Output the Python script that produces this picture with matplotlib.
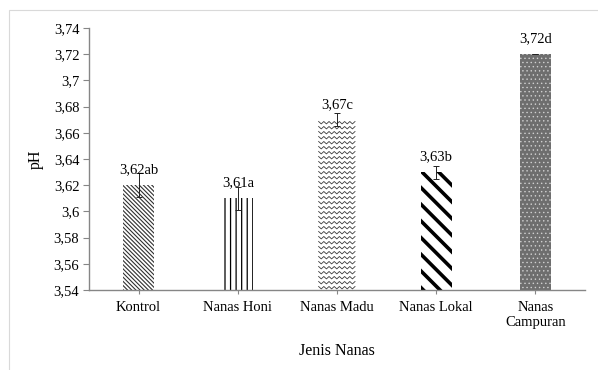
import numpy as np
import matplotlib.pyplot as plt
from matplotlib.patches import Rectangle
from matplotlib.lines import Line2D
from matplotlib.transforms import IdentityTransform

plt.rcParams['font.family'] = ['Liberation Serif', 'DejaVu Serif']
plt.rcParams['font.size'] = 10.5

categories = ["Kontrol", "Nanas Honi", "Nanas Madu", "Nanas Lokal", "Nanas\nCampuran"]
ph_values = [3.62, 3.61, 3.67, 3.63, 3.72]
ph_errors = [0.009, 0.009, 0.005, 0.005, 0.0]
bar_labels = ["3,62ab", "3,61a", "3,67c", "3,63b", "3,72d"]
yticks = [3.54, 3.56, 3.58, 3.60, 3.62, 3.64, 3.66, 3.68, 3.70, 3.72, 3.74]
ytick_labels = ["3,54", "3,56", "3,58", "3,6", "3,62", "3,64", "3,66", "3,68", "3,7", "3,72", "3,74"]

# per-bar look: facecolor, hatch colour, hatch, hatch linewidth
styles = [
    ("white", "#303030", "\\" * 8, 0.8),
    ("white", "black", "|" * 3, 0.9),
    ("white", "white", "", 0.7),   # zigzag drawn by hand below
    ("white", "black", "\\" * 2, 2.6),
    ("#6e6e6e", "#d0d0d0", "." * 4, 0.5),
]

fig = plt.figure(figsize=(5.98, 3.70), dpi=100)
W, H = 598, 370
fig.patches.append(Rectangle((9 / W, -0.1), 1.2, 1 - 10 / H + 0.1, transform=fig.transFigure,
                             facecolor="none", edgecolor="#d9d9d9", linewidth=0.8))

ax = fig.add_axes([89 / W, 1 - 290 / H, (585 - 89) / W, (290 - 28) / H])
x = np.arange(len(categories))

bars = []
for i in range(len(categories)):
    fc, hc, hatch, hlw = styles[i]
    with plt.rc_context({'hatch.linewidth': hlw}):
        b = ax.bar(x[i], ph_values[i] - 3.54, bottom=3.54, width=0.31, color=fc,
                   edgecolor=hc, linewidth=0, hatch=hatch, zorder=2)[0]
    if hasattr(b, "set_hatch_linewidth"):
        b.set_hatch_linewidth(hlw)
    bars.append(b)

ax.set_xlim(-0.5, len(categories) - 0.5)
ax.set_ylim(3.54, 3.74)

# zigzag fill for Nanas Madu
fig.canvas.draw()
zb = bars[2]
(x0, y0), (x1, y1) = ax.transData.transform([(zb.get_x(), zb.get_y()),
                                             (zb.get_x() + zb.get_width(), zb.get_y() + zb.get_height())])
xs = np.arange(x0 - 3, x1 + 3, 2.6)
for yy in np.arange(y1 - 3, y0 - 3, -5.0):
    ys = yy + np.where(np.arange(len(xs)) % 2 == 0, 1.2, -1.2)
    ln = Line2D(xs, ys, transform=IdentityTransform(), color="#3a3a3a", linewidth=0.6, zorder=3)
    ln.set_clip_path(zb)
    ax.add_line(ln)

ax.errorbar(x, ph_values, yerr=ph_errors, fmt="none", ecolor="#222222", elinewidth=0.7,
            capsize=2.5, capthick=0.7, zorder=4)

for i in range(len(categories)):
    ax.annotate(bar_labels[i], (x[i], ph_values[i]), xytext=(0, 11), textcoords="offset points",
                ha="center", va="center", fontsize=10.5, zorder=5)

ax.set_yticks(yticks)
ax.set_yticklabels(ytick_labels)
ax.set_xticks(x)
ax.set_xticklabels(categories)
for s in ["top", "right"]:
    ax.spines[s].set_visible(False)
for s in ["left", "bottom"]:
    ax.spines[s].set_color("#868686")
    ax.spines[s].set_linewidth(1.0)
ax.tick_params(axis="y", length=4, color="#868686", pad=3)
ax.tick_params(axis="x", length=3, color="#868686", pad=5)

ax.set_ylabel("pH", fontsize=11.5, labelpad=7)
ax.set_xlabel("Jenis Nanas", fontsize=11.5, labelpad=10)

fig.savefig("out.png", dpi=100)
